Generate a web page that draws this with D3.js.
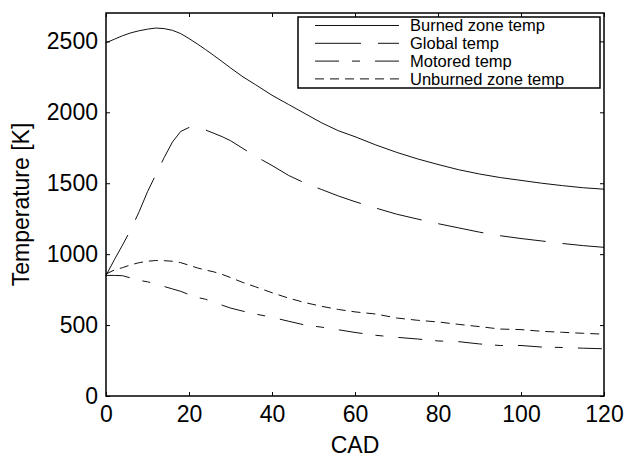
<!DOCTYPE html>
<html lang="en">
<head>
    <meta charset="UTF-8">
    <title>temperature chart</title>
    <script src="https://d3js.org/d3.v7.min.js"></script>
    <style>
        body { margin: 0; background: #fff; }
        svg { font-family: "Liberation Sans", Arial, sans-serif; }
    </style>
</head>
<body>
    <svg></svg>
    <script>
        const svgWidth = 626;
        const svgHeight = 458;

        // crank angle grid shared by all series
        const cad = [0, 2, 4, 6, 8, 10, 12, 14, 16, 18, 20, 22, 24, 26, 28, 30, 33, 36, 40, 44,
            48, 52, 56, 60, 65, 70, 75, 80, 85, 90, 95, 100, 105, 110, 115, 120];
        const burned = [2490, 2515, 2540, 2560, 2575, 2586, 2594, 2590, 2578, 2555, 2520, 2482,
            2442, 2400, 2357, 2313, 2250, 2195, 2120, 2055, 1990, 1925, 1870, 1828, 1770, 1718,
            1672, 1632, 1595, 1565, 1540, 1520, 1500, 1483, 1468, 1458];
        const global = [850, 960, 1065, 1175, 1300, 1440, 1560, 1680, 1790, 1865, 1893, 1890,
            1875, 1852, 1828, 1800, 1745, 1690, 1625, 1555, 1500, 1455, 1410, 1370, 1325, 1282,
            1248, 1215, 1185, 1155, 1130, 1110, 1093, 1075, 1060, 1048];
        const motored = [850, 850, 848, 832, 815, 805, 790, 772, 755, 738, 715, 695, 682, 662,
            640, 620, 598, 578, 555, 527, 500, 485, 467, 448, 428, 414, 402, 388, 383, 367, 356,
            356, 345, 342, 337, 333];
        const unburned = [860, 888, 905, 925, 940, 950, 955, 954, 950, 940, 922, 903, 888, 875,
            857, 835, 800, 770, 728, 690, 658, 632, 610, 593, 578, 550, 534, 522, 505, 489, 472,
            468, 456, 449, 442, 436];

        const seriesNames = ["Burned zone temp", "Global temp", "Motored temp", "Unburned zone temp"];
        const xTicks = [0, 20, 40, 60, 80, 100, 120];
        const yTicks = [0, 500, 1000, 1500, 2000, 2500];

        const series = [
            { name: seriesNames[0], values: burned, dash: null },
            { name: seriesNames[1], values: global, dash: "46,17" },
            { name: seriesNames[2], values: motored, dash: "24,13,8,15" },
            { name: seriesNames[3], values: unburned, dash: "9,6" }
        ];

        const margin = { left: 106, top: 13, right: 22, bottom: 62 };
        const w = svgWidth - margin.left - margin.right;
        const h = svgHeight - margin.top - margin.bottom;

        const svg = d3.select('svg')
            .attr("width", svgWidth)
            .attr("height", svgHeight);

        const g = svg.append('g')
            .attr("transform", `translate(${margin.left},${margin.top})`);

        const x = d3.scaleLinear().domain([0, 120]).range([0, w]);
        const y = d3.scaleLinear().domain([0, 2700]).range([h, 0]);

        const line = d3.line()
            .x((d, i) => x(cad[i]))
            .y(d => y(d));

        series.forEach(s => {
            g.append("path")
                .attr("d", line(s.values))
                .attr("fill", "none")
                .attr("stroke", "#111")
                .attr("stroke-width", 1)
                .attr("stroke-dasharray", s.dash);
        });

        // axes, ticks pointing inward
        const fontSize = 23;
        const fmt = d3.format("d");
        const xAxis = g.append("g")
            .attr("transform", `translate(0,${h})`)
            .call(d3.axisBottom(x).tickValues(xTicks).tickFormat(fmt).tickSize(-4).tickPadding(10));
        const yAxis = g.append("g")
            .call(d3.axisLeft(y).tickValues(yTicks).tickFormat(fmt).tickSize(-4).tickPadding(8));
        g.append("g")
            .call(d3.axisTop(x).tickValues(xTicks).tickSize(-4).tickFormat(""));
        g.append("g")
            .attr("transform", `translate(${w},0)`)
            .call(d3.axisRight(y).tickValues(yTicks).tickSize(-4).tickFormat(""));

        g.selectAll(".domain").remove();
        g.selectAll(".tick line").attr("stroke", "#000");
        [xAxis, yAxis].forEach(a => a.selectAll("text")
            .attr("font-size", fontSize)
            .attr("font-family", "Liberation Sans, Arial, sans-serif")
            .attr("fill", "#000"));

        g.append("rect")
            .attr("width", w)
            .attr("height", h)
            .attr("fill", "none")
            .attr("stroke", "#000")
            .attr("stroke-width", 1.5);

        // axis titles
        svg.append("text")
            .attr("x", margin.left + w / 2)
            .attr("y", 453)
            .attr("text-anchor", "middle")
            .attr("font-size", fontSize)
            .text("CAD");
        svg.append("text")
            .attr("transform", `translate(29,${margin.top + h / 2}) rotate(-90)`)
            .attr("text-anchor", "middle")
            .attr("font-size", fontSize)
            .text("Temperature [K]");

        // legend
        const legend = svg.append("g").attr("transform", "translate(298,17)");
        legend.append("rect")
            .attr("width", 302)
            .attr("height", 71)
            .attr("fill", "#fff")
            .attr("stroke", "#000")
            .attr("stroke-width", 1.5);
        const rows = legend.selectAll(".row")
            .data(series)
            .enter()
            .append("g")
            .attr("transform", (d, i) => `translate(0,${8.5 + i * 17.8})`);
        rows.append("line")
            .attr("x1", 17).attr("x2", 101)
            .attr("stroke", "#111")
            .attr("stroke-width", 1)
            .attr("stroke-dasharray", d => d.dash);
        rows.append("text")
            .attr("x", 112)
            .attr("dy", "0.36em")
            .attr("font-size", 16.5)
            .text(d => d.name);
    </script>
</body>
</html>
